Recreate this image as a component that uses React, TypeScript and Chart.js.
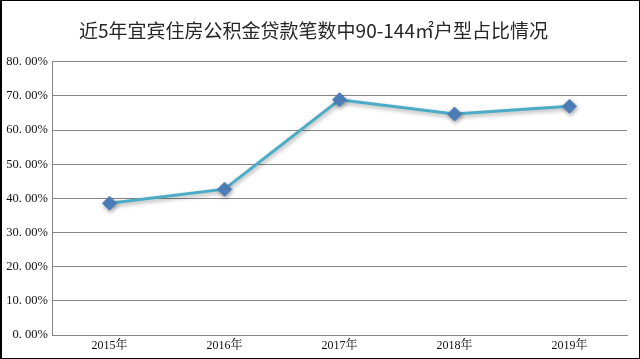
import React, { useEffect, useRef } from "react";
import { Chart, registerables } from "chart.js";

Chart.register(...registerables);

const titleText = "近5年宜宾住房公积金贷款笔数中90-144㎡户型占比情况";
const categories = ["2015年", "2016年", "2017年", "2018年", "2019年"];
const shareValues = [38.6, 42.7, 68.9, 64.7, 67.0];
const yMin = 0;
const yMax = 80;
const yStep = 10;

const frame = {
  id: "frame",
  afterDraw(chart: any) {
    const ctx = chart.ctx;
    ctx.save();
    ctx.strokeStyle = "#000";
    ctx.lineWidth = 1;
    ctx.strokeRect(0.5, 0.5, chart.width - 1, chart.height - 1);
    ctx.fillStyle = "#000";
    ctx.fillRect(0, 0, 2, chart.height);
    ctx.restore();
  },
};

const shadow = {
  id: "shadow",
  beforeDatasetsDraw(chart: any) {
    const ctx = chart.ctx;
    ctx.save();
    ctx.shadowColor = "rgba(0,0,0,0.35)";
    ctx.shadowBlur = 4;
    ctx.shadowOffsetX = 1;
    ctx.shadowOffsetY = 2;
  },
  afterDatasetsDraw(chart: any) {
    chart.ctx.restore();
  },
};

export default function App() {
  const ref = useRef<HTMLCanvasElement | null>(null);
  useEffect(() => {
    document.body.style.margin = "0";
    const chart = new Chart(ref.current as HTMLCanvasElement, {
      type: "line",
      data: {
        labels: categories,
        datasets: [
          {
            data: shareValues,
            borderColor: "#4BACC6",
            borderWidth: 3,
            pointStyle: "rectRot",
            pointRadius: 7,
            pointBackgroundColor: "#4F81BD",
            pointBorderColor: "#4F81BD",
            pointBorderWidth: 1,
            tension: 0,
          },
        ],
      },
      options: {
        animation: false,
        responsive: false,
        maintainAspectRatio: false,
        layout: { padding: { left: 0, right: 13, top: 0, bottom: 0 } },
        plugins: {
          legend: { display: false },
          tooltip: { enabled: false },
          title: {
            display: true,
            text: titleText,
            color: "#262626",
            font: { family: "'Noto Sans CJK SC', sans-serif", size: 19, weight: "normal" },
            padding: { top: 19, bottom: 20 },
          },
        },
        scales: {
          x: {
            offset: true,
            grid: { display: false, drawTicks: false },
            border: { display: true, color: "#868686", width: 1 },
            ticks: {
              color: "#111",
              padding: 4,
              maxRotation: 0,
              font: { family: "'Liberation Serif', 'Noto Serif CJK SC', 'Noto Sans CJK SC', serif", size: 12 },
            },
            afterFit(scale: any) {
              scale.height = 24;
            },
          },
          y: {
            min: yMin,
            max: yMax,
            grid: { color: "#868686", lineWidth: 1, drawTicks: false },
            border: { display: true, color: "#868686", width: 1 },
            ticks: {
              stepSize: yStep,
              color: "#111",
              padding: 4,
              font: { family: "'Liberation Serif', serif", size: 12.5 },
              callback: (v: any) => {
                const s = Number(v).toFixed(2).split(".");
                return s[0] + ". " + s[1] + "%";
              },
            },
            afterFit(scale: any) {
              scale.width = 52;
            },
          },
        },
      },
      plugins: [shadow, frame],
    });
    return () => chart.destroy();
  }, []);
  return (
    <div style={{ position: "absolute", left: 0, top: 0, width: 640, height: 359 }}>
      <canvas ref={ref} width={640} height={359} style={{ display: "block", width: 640, height: 359 }} />
    </div>
  );
}
